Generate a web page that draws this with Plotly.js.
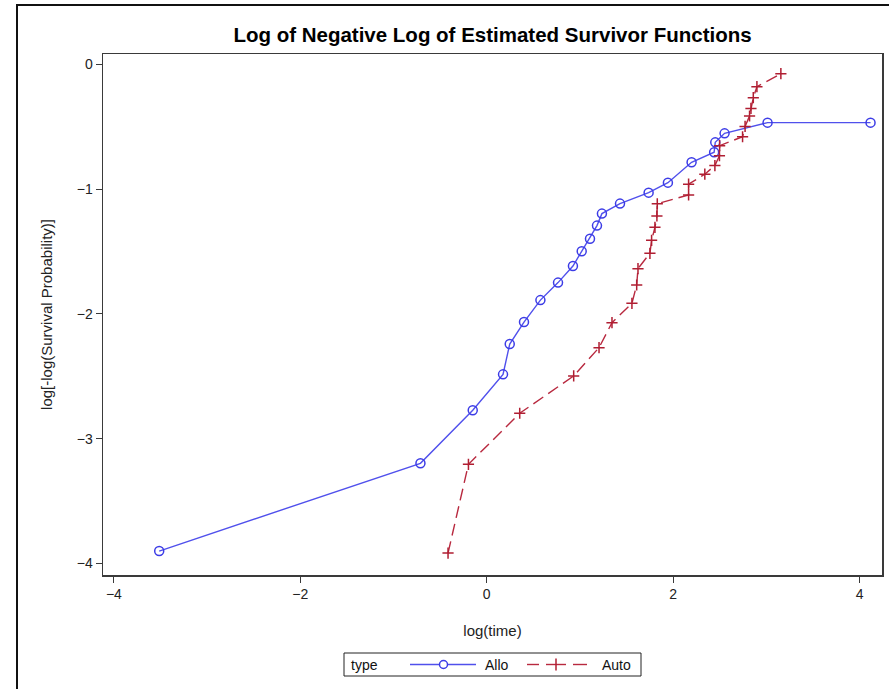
<!DOCTYPE html>
<html>
<head>
<meta charset="utf-8">
<script src="https://cdn.plot.ly/plotly-3.0.1.min.js"></script>
<style>
  html, body { margin: 0; padding: 0; background: #ffffff; }
  #wrap { position: relative; width: 889px; height: 689px; }
  #chart { position: absolute; left: 0; top: 0; width: 889px; height: 689px; }
  #frame {
    position: absolute; left: 16px; top: 4px; right: -4px; bottom: -4px;
    border-left: 2px solid #111; border-top: 2px solid #111;
    pointer-events: none;
  }
</style>
</head>
<body>
<div id="wrap">
  <div id="chart"></div>
  <div id="frame"></div>
</div>
<script>
// log(time) and log[-log(S(t))] for each transplant type
const alloLogTime = [-3.514, -0.711, -0.150, 0.175, 0.247, 0.400, 0.576, 0.765, 0.925, 1.019,
                     1.108, 1.183, 1.236, 1.430, 1.737, 1.944, 2.198, 2.440, 2.452, 2.552,
                     3.013, 4.118];
const alloLogLogS = [-3.900, -3.197, -2.772, -2.484, -2.241, -2.065, -1.889, -1.749, -1.616, -1.498,
                     -1.397, -1.292, -1.196, -1.116, -1.028, -0.948, -0.785, -0.704, -0.625, -0.553,
                     -0.467, -0.467];

const autoLogTime = [-0.415, -0.196, 0.354, 0.933, 1.205, 1.344, 1.558, 1.609, 1.623, 1.751,
                     1.769, 1.805, 1.826, 1.830, 2.166, 2.166, 2.340, 2.448, 2.497, 2.499,
                     2.745, 2.772, 2.820, 2.835, 2.860, 2.899, 3.156];
const autoLogLogS = [-3.916, -3.205, -2.796, -2.497, -2.270, -2.070, -1.915, -1.768, -1.637, -1.514,
                     -1.410, -1.306, -1.215, -1.117, -1.046, -0.960, -0.880, -0.811, -0.732, -0.652,
                     -0.580, -0.497, -0.414, -0.353, -0.267, -0.179, -0.075];

const groupNames = ['Allo', 'Auto'];
const legendTitle = 'type';
const xTicks = [-4, -2, 0, 2, 4];
const yTicks = [-4, -3, -2, -1, 0];

const FONT = 'Liberation Sans, Arial, sans-serif';
const BLUE_LINE = '#5050ec', BLUE_MARK = '#3c3ce6';
const RED_LINE = '#b8293f', RED_MARK = '#b01e32';

const traces = [
  {
    x: alloLogTime, y: alloLogLogS, name: groupNames[0],
    type: 'scatter', mode: 'lines+markers',
    line: { color: BLUE_LINE, width: 1.4 },
    marker: { symbol: 'circle-open', size: 9, color: BLUE_MARK, line: { width: 1.5, color: BLUE_MARK } }
  },
  {
    x: autoLogTime, y: autoLogLogS, name: groupNames[1],
    type: 'scatter', mode: 'lines+markers',
    line: { color: RED_LINE, width: 1.4, dash: '12px,6px' },
    marker: { symbol: 'cross-thin-open', size: 8, color: RED_MARK, line: { width: 1.5, color: RED_MARK } }
  }
];

// Plot area in pixels, used to place the legend box below the axes
const PLOT = { l: 103, r: 882, t: 54, b: 575 };
const px = v => (v - PLOT.l) / (PLOT.r - PLOT.l);
const py = v => (PLOT.b - v) / (PLOT.b - PLOT.t);

const LEG_Y = 664.5;
const shapes = [
  // legend border
  { type: 'rect', xref: 'paper', yref: 'paper', x0: px(344), x1: px(641), y0: py(653), y1: py(676),
    line: { color: '#222', width: 1 }, fillcolor: '#fff' },
  // Allo sample: solid line with open circle
  { type: 'line', xref: 'paper', yref: 'paper', x0: px(410), x1: px(476), y0: py(LEG_Y), y1: py(LEG_Y),
    line: { color: BLUE_LINE, width: 1.4 } },
  { type: 'circle', xref: 'paper', yref: 'paper', x0: px(439.5), x1: px(447.5), y0: py(LEG_Y - 4), y1: py(LEG_Y + 4),
    line: { color: BLUE_MARK, width: 1.5 }, fillcolor: '#fff' },
  // Auto sample: dashed line with plus
  { type: 'line', xref: 'paper', yref: 'paper', x0: px(527), x1: px(539), y0: py(LEG_Y), y1: py(LEG_Y),
    line: { color: RED_LINE, width: 1.4 } },
  { type: 'line', xref: 'paper', yref: 'paper', x0: px(546), x1: px(566), y0: py(LEG_Y), y1: py(LEG_Y),
    line: { color: RED_LINE, width: 1.4 } },
  { type: 'line', xref: 'paper', yref: 'paper', x0: px(573), x1: px(587), y0: py(LEG_Y), y1: py(LEG_Y),
    line: { color: RED_LINE, width: 1.4 } },
  { type: 'line', xref: 'paper', yref: 'paper', x0: px(556), x1: px(556), y0: py(LEG_Y - 6), y1: py(LEG_Y + 6),
    line: { color: RED_MARK, width: 1.5 } }
];

const legText = (text, left) => ({
  text: text, xref: 'paper', yref: 'paper', x: px(left), y: py(LEG_Y),
  xanchor: 'left', yanchor: 'middle', showarrow: false,
  font: { family: FONT, size: 14, color: '#111' }
});
const annotations = [
  legText(legendTitle, 349),
  legText(groupNames[0], 483),
  legText(groupNames[1], 600)
];

const axisCommon = {
  showgrid: false, zeroline: false,
  showline: true, mirror: true, linecolor: '#3a3a3a', linewidth: 1.5,
  ticks: 'outside', ticklen: 6, tickwidth: 1, tickcolor: '#3a3a3a',
  tickfont: { family: FONT, size: 14, color: '#222' }
};

const layout = {
  width: 889, height: 689,
  margin: { l: PLOT.l, r: 889 - PLOT.r, t: PLOT.t, b: 689 - PLOT.b },
  paper_bgcolor: 'rgba(0,0,0,0)', plot_bgcolor: '#ffffff',
  font: { family: FONT, color: '#222' },
  showlegend: false,
  title: {
    text: '<b>Log of Negative Log of Estimated Survivor Functions</b>',
    font: { family: FONT, size: 20.5, color: '#000' },
    x: 0.5, xref: 'paper', y: 1 - 35 / 689, yref: 'container', yanchor: 'middle'
  },
  xaxis: Object.assign({}, axisCommon, {
    range: [-4.117, 4.241], tickvals: xTicks,
    title: { text: 'log(time)', font: { family: FONT, size: 15, color: '#222' }, standoff: 24 }
  }),
  yaxis: Object.assign({}, axisCommon, {
    range: [-4.092, 0.083], tickvals: yTicks,
    title: { text: 'log[-log(Survival Probability)]', font: { family: FONT, size: 15, color: '#222' }, standoff: 20 }
  }),
  shapes: shapes,
  annotations: annotations
};

Plotly.newPlot('chart', traces, layout, { displayModeBar: false, staticPlot: true });
</script>
</body>
</html>
